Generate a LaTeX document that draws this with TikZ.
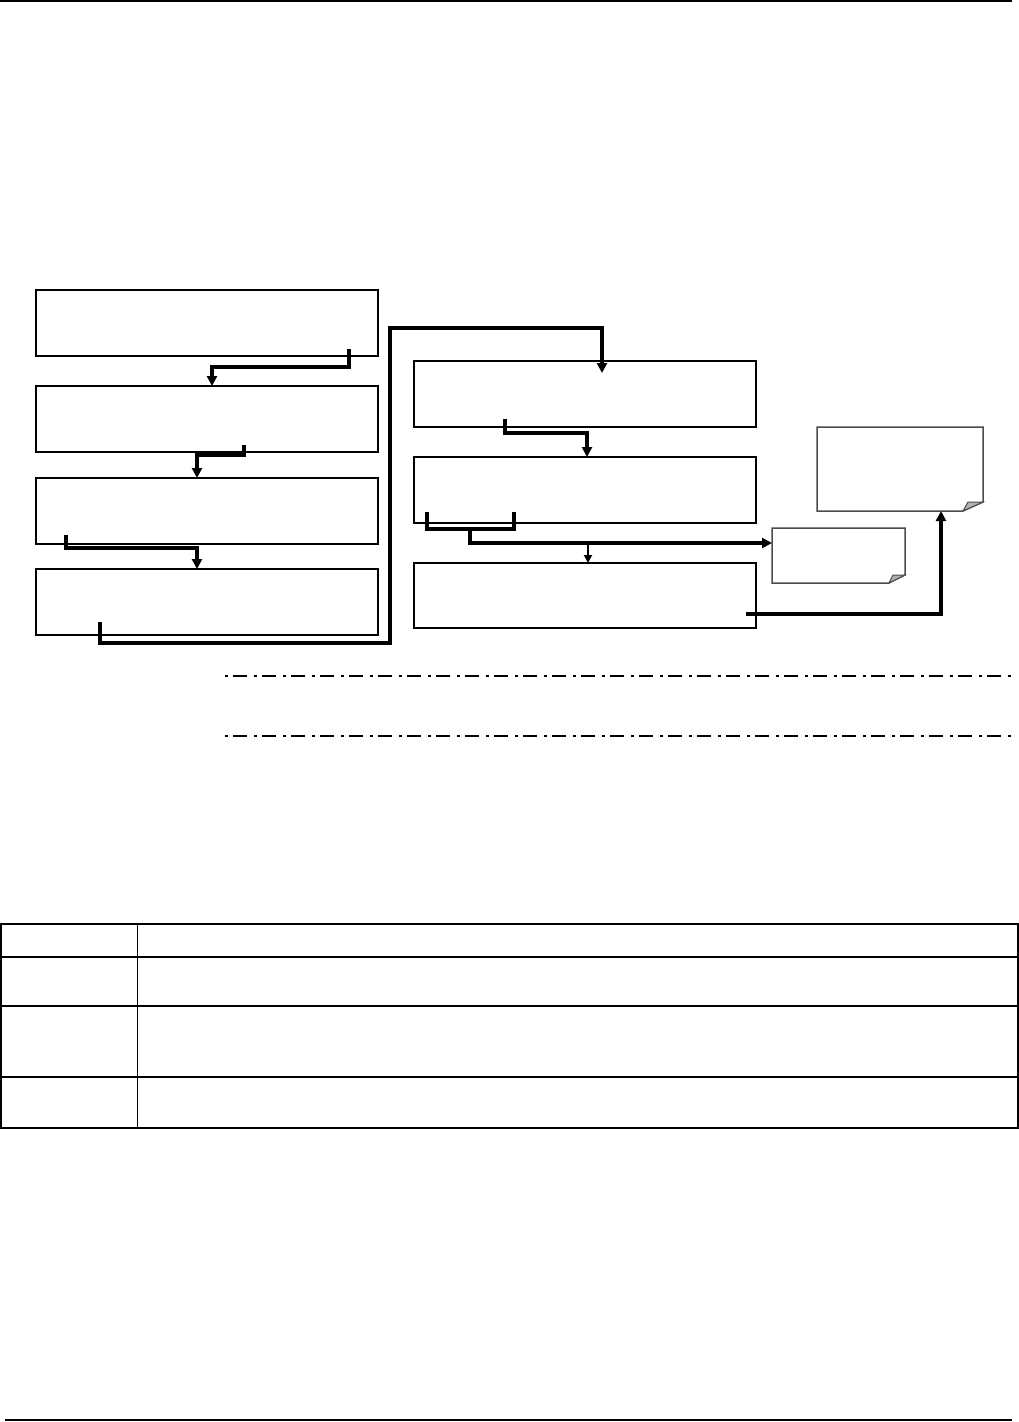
\documentclass[tikz,border=0pt]{standalone}
\usetikzlibrary{arrows.meta,calc}
\begin{document}
\begin{tikzpicture}[x=1pt,y=-1pt,
  stepbox/.style={draw=black,line width=1.6pt,minimum width=342pt,minimum height=66pt,anchor=north west,inner sep=0pt,outer sep=0pt},
  holder/.style={draw=none,anchor=north west,inner sep=0pt,outer sep=0pt},
  notebox/.style={draw=black!70,line width=1.5pt,fill=white,line join=miter},
  fold/.style={draw=black!70,line width=1pt,fill=black!30},
  conn/.style={line width=3.4pt,line join=miter},
  medconn/.style={line width=3.2pt,line join=miter},
  thinconn/.style={line width=1.8pt},
  bigtip/.style={-{Triangle[width=10pt,length=10pt]}},
  smalltip/.style={-{Triangle[width=8pt,length=8pt]}},
  dashdot/.style={line width=1.3pt,dash pattern=on 3pt off 5pt on 14pt off 7pt},
  rule/.style={line width=1.6pt},
  tblout/.style={line width=2pt},
  tblin/.style={line width=1pt}]
\useasboundingbox (0,0) rectangle (1019,1422);
% page rules
\coordinate (rtl) at (0,1); \coordinate (rtr) at (1012,1);
\draw[rule] (rtl) -- (rtr);
\coordinate (rbl) at (5,1420); \coordinate (rbr) at (1012,1420);
\draw[rule] (rbl) -- (rbr);
% left column
\node[stepbox] (b1) at (36,290) {};
\node[stepbox] (b2) at (36,386) {};
\node[stepbox] (b3) at (36,478) {};
\node[stepbox] (b4) at (36,569) {};
% right column
\node[stepbox] (b5) at (414,361) {};
\node[stepbox] (b6) at (414,457) {};
\node[stepbox, minimum height=65pt] (b7) at (414,563) {};
% notes
\node[holder,minimum width=166pt,minimum height=84pt] (n1) at (817,427) {};
\draw[notebox] (n1.north west) -- (n1.north east) -- ([yshift=9pt]n1.south east) -- ([xshift=-20pt]n1.south east) -- (n1.south west) -- cycle;
\draw[fold] ([xshift=-20pt]n1.south east) -- ([xshift=-15pt,yshift=9pt]n1.south east) -- ([yshift=9pt]n1.south east) -- cycle;
\node[holder,minimum width=133pt,minimum height=55pt] (n2) at (772,528) {};
\draw[notebox] (n2.north west) -- (n2.north east) -- ([yshift=8pt]n2.south east) -- ([xshift=-16pt]n2.south east) -- (n2.south west) -- cycle;
\draw[fold] ([xshift=-16pt]n2.south east) -- ([xshift=-12pt,yshift=8pt]n2.south east) -- ([yshift=8pt]n2.south east) -- cycle;
% connector start points
\coordinate (s1) at (349,349);
\coordinate (s2) at (244,445);
\coordinate (s3) at (66,535);
\coordinate (s4) at (100,622);
\coordinate (s5) at (505,419);
\coordinate (s6a) at (427,512);
\coordinate (s6b) at (514,512);
\coordinate (s6m) at (470,529);
\coordinate (s7) at (746,614);
\coordinate (e2) at (n2.west |- 0,543);
% connectors left column
\draw[conn,bigtip] (s1) |- (212,367) -- (212,367 |- b2.north);
\draw[conn,bigtip] (s2) |- (197,455) -- (197,455 |- b3.north);
\draw[conn,bigtip] (s3) |- (197,548) -- (197,548 |- b4.north);
\draw[conn,bigtip] (s4) |- (390,643) |- (602,328) -- (602,373);
% right column
\draw[medconn,bigtip] (s5) |- (587,433) -- (587,433 |- b6.north);
\draw[medconn] (s6a) |- (s6b |- s6m) -- (s6b);
\draw[medconn,bigtip] (s6m) |- (e2);
\coordinate (br) at (588,543);
\draw[thinconn,smalltip] (br) -- (br |- b7.north);
\draw[conn,bigtip] (s7) -| (941,0 |- n1.south);
% dash-dot lines
\coordinate (d1l) at (225,676); \coordinate (d1r) at (1012,676);
\coordinate (d2l) at (225,736); \coordinate (d2r) at (1012,736);
\draw[dashdot] (d1l) -- (d1r);
\draw[dashdot] (d2l) -- (d2r);
% table
\coordinate (t00) at (1,924); \coordinate (t11) at (1018,1128);
\draw[tblout] (t00) rectangle (t11);
\draw[tblout] (1,957) -- (1018,957);
\draw[tblout] (1,1006) -- (1018,1006);
\draw[tblout] (1,1077) -- (1018,1077);
\draw[tblin] (137,924) -- (137,1128);
\end{tikzpicture}
\end{document}
